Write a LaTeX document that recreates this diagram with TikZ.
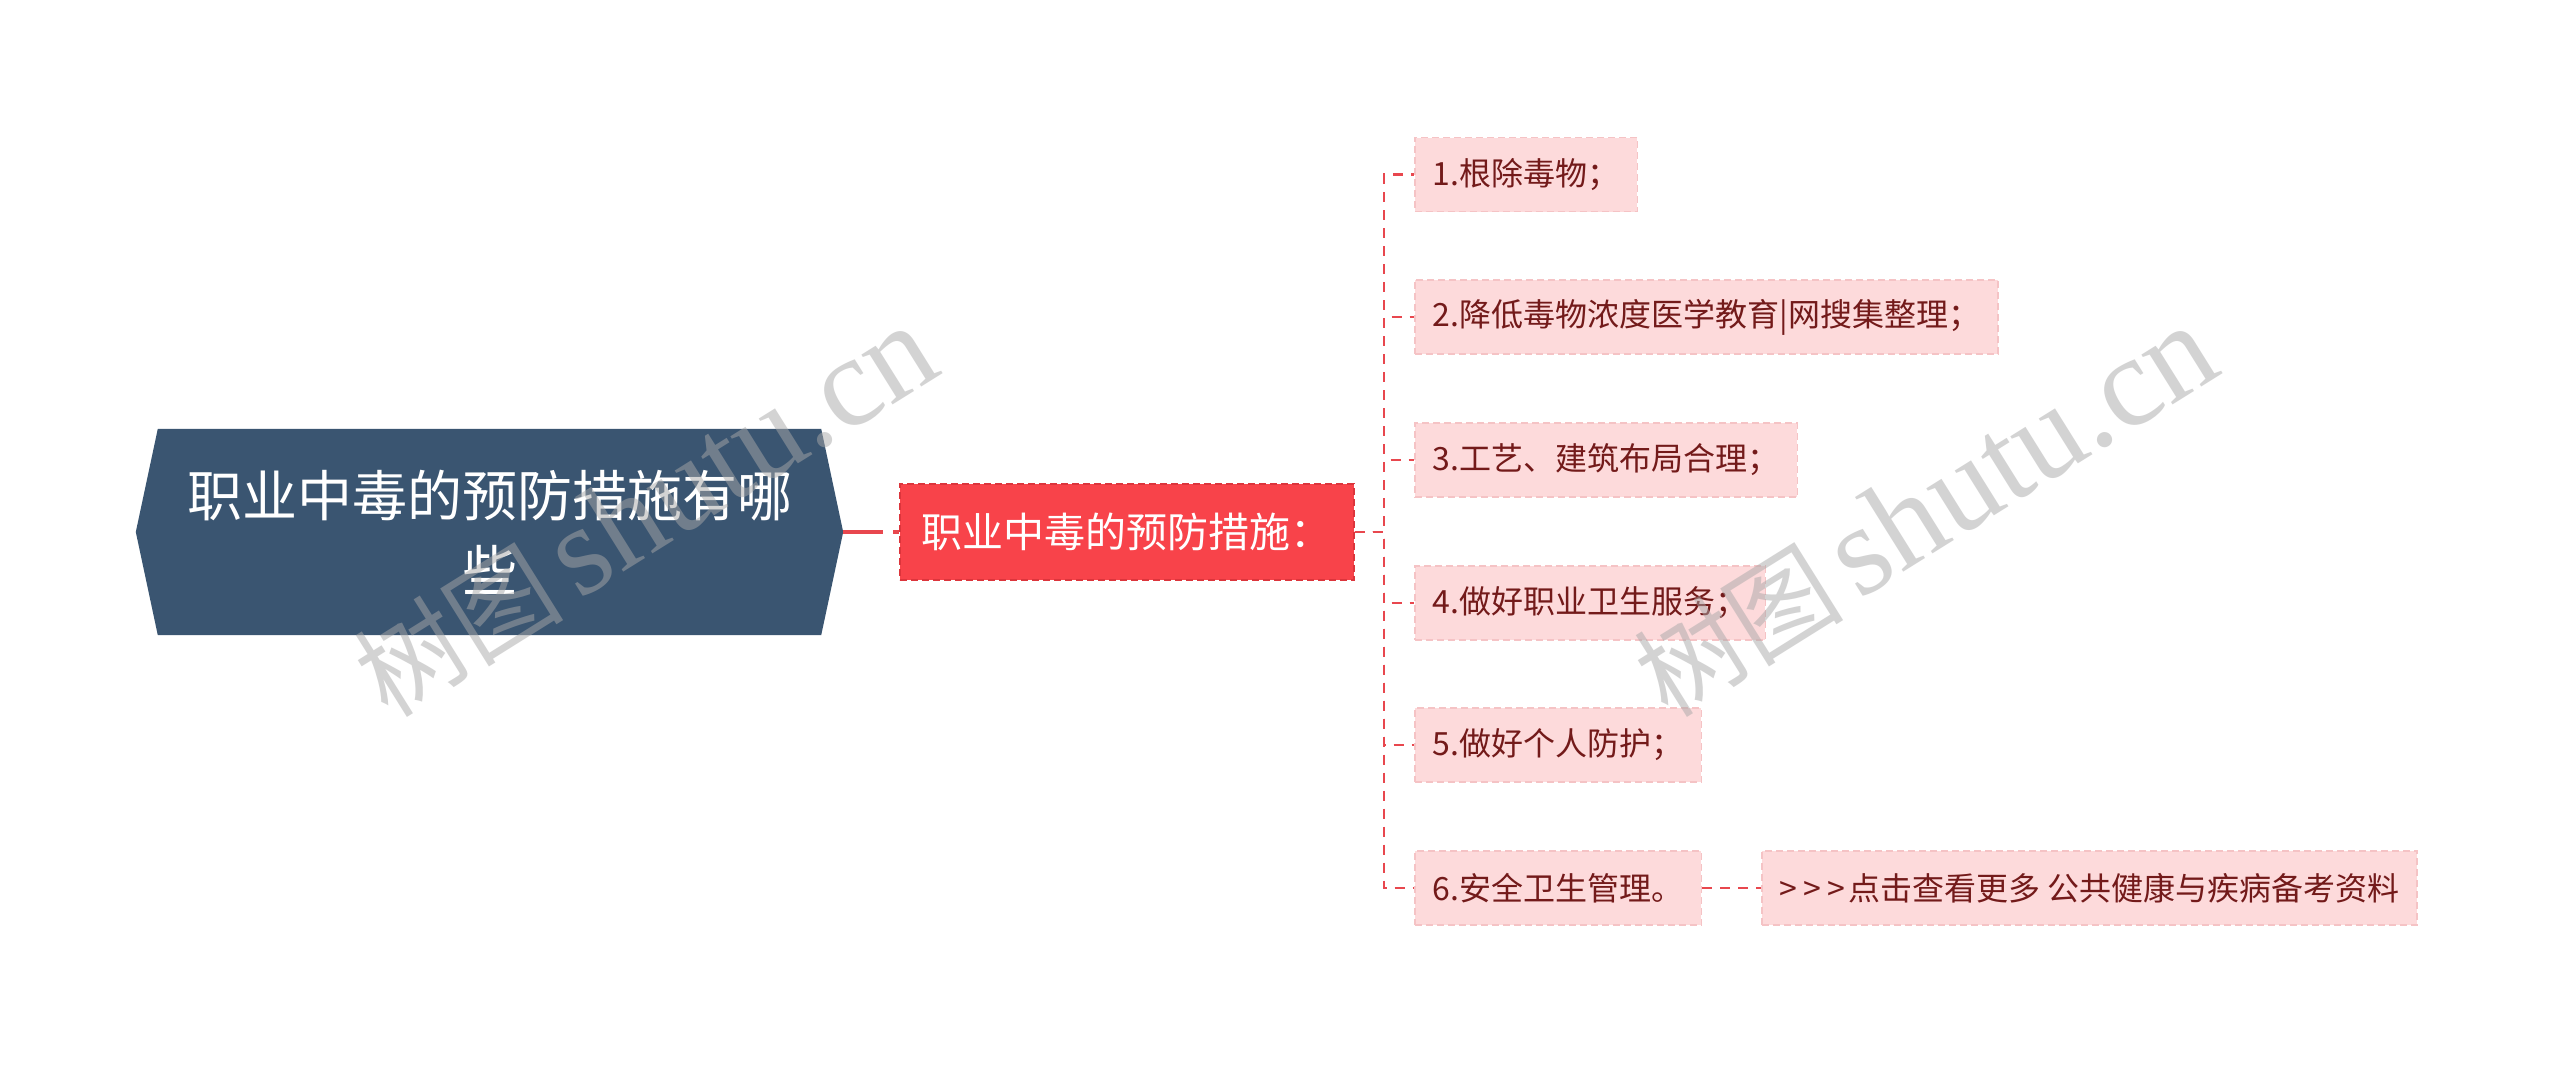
\documentclass[tikz,border=0pt]{standalone}
\usepackage{fontspec}
\setmainfont{Noto Sans CJK SC}
\newfontfamily\wmlatin{Liberation Serif}
\usetikzlibrary{backgrounds}
\definecolor{rootfill}{HTML}{3A5571}
\definecolor{redfill}{HTML}{F8434A}
\definecolor{redborder}{HTML}{DC353C}
\definecolor{childfill}{HTML}{FDDADB}
\definecolor{childborder}{HTML}{F5C3C5}
\definecolor{childtext}{HTML}{731A1A}
\definecolor{connred}{HTML}{E8474E}
\definecolor{wmgray}{HTML}{A8A8A8}
\tikzset{
  childbox/.style={draw=childborder, fill=childfill, dash pattern=on 7pt off 4pt,
    line width=1.5pt, text=childtext, font=\fontsize{32}{38}\selectfont,
    inner xsep=18pt, inner ysep=0pt, minimum height=74pt, anchor=west},
  redbox/.style={draw=redborder, fill=redfill, dash pattern=on 7pt off 4pt,
    line width=1.5pt, text=white, font=\fontsize{41}{48}\selectfont,
    inner xsep=22pt, inner ysep=0pt, minimum height=96pt, anchor=west},
  rootbox/.style={text=white, align=center, font=\fontsize{55}{75}\selectfont,
    minimum width=663pt, minimum height=206pt, inner sep=0pt},
  conn/.style={draw=connred, line width=2.5pt, dash pattern=on 10pt off 8pt},
  rootline/.style={draw=connred, line width=4pt, dash pattern=on 40pt off 10pt on 20pt},
  wm/.style={text=wmgray, text opacity=0.5, inner sep=0pt}
}
\begin{document}
\begin{tikzpicture}[x=1pt,y=-1pt]
\useasboundingbox (0,0) rectangle (2560,1065);

% root
\node[rootbox] (root) at (489.5,532) {职业中毒的预防措施有哪\\些};
\begin{scope}[on background layer]
\fill[white] (0,0) rectangle (2560,1065);
\fill[rootfill] ([xshift=-22pt]root.west) -- (root.north west) -- (root.north east)
  -- ([xshift=22pt]root.east) -- (root.south east) -- (root.south west) -- cycle;
\end{scope}
\coordinate (rootR) at ([xshift=22pt]root.east);

% level 1
\node[redbox] (red) at (899,532) {职业中毒的预防措施：};

% level 2
\node[childbox] (c1) at (1414,174.5) {1.根除毒物；};
\node[childbox] (c2) at (1414,317) {2.降低毒物浓度医学教育|网搜集整理；};
\node[childbox] (c3) at (1414,460) {3.工艺、建筑布局合理；};
\node[childbox] (c4) at (1414,603) {4.做好职业卫生服务；};
\node[childbox] (c5) at (1414,745) {5.做好个人防护；};
\node[childbox] (c6) at (1414,888) {6.安全卫生管理。};
\node[childbox] (c7) at (1761,888) {>\kern6pt>\kern6pt>\kern3pt点击查看更多 公共健康与疾病备考资料};

% connectors
\draw[rootline] (rootR) -- (red.west);
\coordinate (tk) at (1384,532);
\foreach \c in {c1,c2,c3,c4,c5,c6}{
  \draw[conn] (red.east) -- (tk) |- (\c.west);
}
\draw[conn] (c6.east) -- (c7.west);

% watermarks
\node[wm, rotate=32] (wm1) at (645,512) {{\fontsize{105}{105}\selectfont 树图}\hspace{16pt}{\wmlatin\fontsize{128}{130}\selectfont shutu.cn}};
\node[wm, rotate=32] (wm2) at (1925,512) {{\fontsize{105}{105}\selectfont 树图}\hspace{16pt}{\wmlatin\fontsize{128}{130}\selectfont shutu.cn}};
\end{tikzpicture}
\end{document}
